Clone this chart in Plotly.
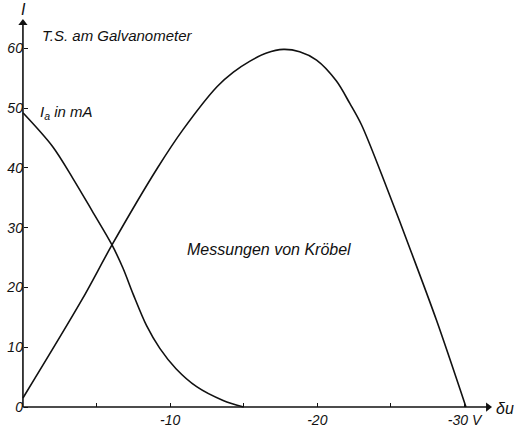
import plotly.graph_objects as go

# Anode current I_a (mA) versus grid voltage change du (V)
du_ia = [0, -2.0, -3.4, -4.7, -6.05, -6.8, -7.5, -8.4, -9.3, -10.4, -11.8, -13.6, -15.0]
ia = [49.2, 43.6, 38.2, 32.8, 27.1, 23.2, 18.8, 13.6, 9.8, 6.4, 3.4, 1.1, 0.0]

# Galvanometer deflection (T.S.) versus du
du_ts = [0, -4.0, -6.05, -9.15, -10.85, -13.2, -14.3, -15.4, -16.55, -17.7, -18.8, -19.95,
         -21.3, -22.2, -23.0, -24.7, -26.4, -28.1, -30.1]
ts = [1.5, 17.9, 27.1, 40.0, 46.3, 53.6, 56.0, 57.8, 59.2, 59.8, 59.4, 58.0,
      54.5, 50.8, 47.2, 36.8, 25.8, 14.5, 0.0]

y_ticks = [0, 10, 20, 30, 40, 50, 60]
x_ticks = [-10, -20, -30]
x_tick_text = ["-10", "-20", "-30 V"]
x_minor_ticks = [-5, -15, -25]

X_RANGE = [0.2, -33.5]
Y_RANGE = [-0.5, 68.06]
X_AXIS_END = -31.6
Y_AXIS_END = 64.2

FONT = "Liberation Sans, Arial, sans-serif"
INK = "#111111"

fig = go.Figure()
for xs, ys in ((du_ia, ia), (du_ts, ts)):
    fig.add_trace(go.Scatter(
        x=xs, y=ys, mode="lines",
        line=dict(color=INK, width=1.6, shape="spline", smoothing=0.9),
        hoverinfo="skip", showlegend=False,
    ))

# Axis lines through the origin, with arrowheads
fig.add_shape(type="line", xref="x", yref="y", x0=0, y0=0, x1=X_AXIS_END, y1=0,
              line=dict(color=INK, width=1.6))
fig.add_shape(type="line", xref="x", yref="y", x0=0, y0=0, x1=0, y1=Y_AXIS_END,
              line=dict(color=INK, width=1.6))
fig.add_trace(go.Scatter(
    x=[X_AXIS_END, 0], y=[0, Y_AXIS_END], mode="markers",
    marker=dict(symbol=["triangle-right", "triangle-up"], size=8, color=INK),
    cliponaxis=False, hoverinfo="skip", showlegend=False,
))

txt = dict(family=FONT, size=15, color=INK, style="italic")

fig.add_annotation(x=0, y=66.5, xref="x", yref="y", text="I", showarrow=False,
                   xanchor="center", yanchor="middle", xshift=1, font=dict(txt, size=16))
fig.add_annotation(x=-1.15, y=62.2, xref="x", yref="y", text="T.S. am Galvanometer",
                   showarrow=False, xanchor="left", yanchor="middle", font=txt)
fig.add_annotation(x=-1.0, y=49.2, xref="x", yref="y", text="I<sub>a</sub> in mA",
                   showarrow=False, xanchor="left", yanchor="middle", font=txt)
fig.add_annotation(x=-11.0, y=26.3, xref="x", yref="y", text="Messungen von Kröbel",
                   showarrow=False, xanchor="left", yanchor="middle", font=dict(txt, size=16))
fig.add_annotation(x=-32.0, y=0, xref="x", yref="y", text="δu", yshift=-1,
                   showarrow=False, xanchor="left", yanchor="middle", font=dict(txt, size=16))

# Tick axes sit on the zero lines of the other axis
x_pos = (0 - Y_RANGE[0]) / (Y_RANGE[1] - Y_RANGE[0])
y_pos = (X_RANGE[0] - 0) / (X_RANGE[0] - X_RANGE[1])

fig.update_xaxes(
    range=X_RANGE, showgrid=False, zeroline=False, showline=False,
    anchor="free", position=x_pos,
    tickvals=x_ticks, ticktext=x_tick_text, ticks="inside", ticklen=4, tickwidth=1,
    tickcolor=INK, ticklabelstandoff=3,
    minor=dict(tickvals=x_minor_ticks, ticks="inside", ticklen=4, tickwidth=1,
               tickcolor=INK, showgrid=False),
    tickfont=dict(family=FONT, size=14, color=INK, style="italic"),
)
fig.update_yaxes(
    range=Y_RANGE, showgrid=False, zeroline=False, showline=False,
    anchor="free", position=y_pos,
    tickvals=y_ticks, ticks="inside", ticklen=4, tickwidth=1, tickcolor=INK,
    tickfont=dict(family=FONT, size=14, color=INK, style="italic"),
)
fig.update_layout(
    width=516, height=432, margin=dict(l=20, r=0, t=0, b=22, autoexpand=False),
    plot_bgcolor="white", paper_bgcolor="white",
)
fig.write_html("out.html")
